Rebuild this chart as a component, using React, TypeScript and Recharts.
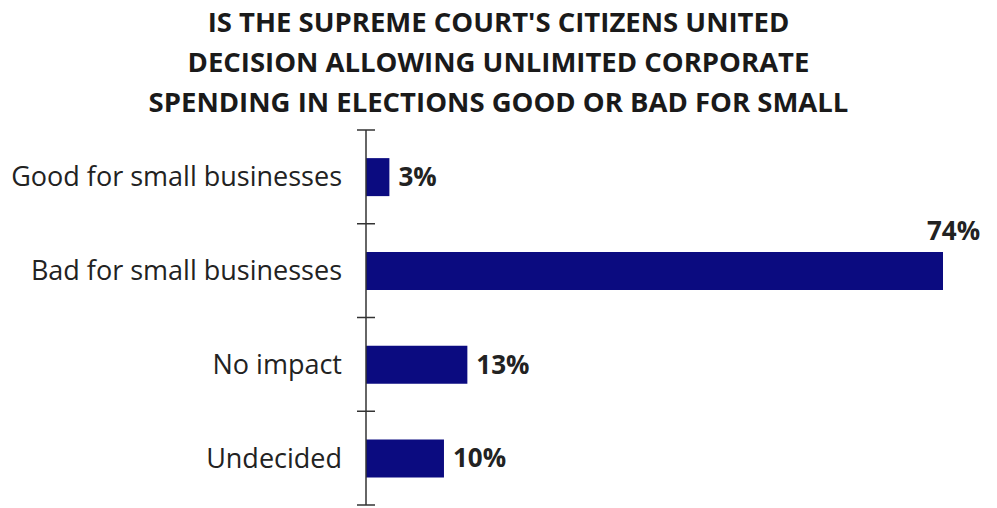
import React from 'react';
import { Bar, BarChart, LabelList, XAxis, YAxis } from 'recharts';

const titleLines = [
  "IS THE SUPREME COURT'S CITIZENS UNITED",
  'DECISION ALLOWING UNLIMITED CORPORATE',
  'SPENDING IN ELECTIONS GOOD OR BAD FOR SMALL',
];
const categories = [
  'Good for small businesses',
  'Bad for small businesses',
  'No impact',
  'Undecided',
];
const percents = [3, 74, 13, 10];

const chartData = categories.map((name, i) => ({ name, pct: percents[i] }));
const maxPct = Math.max(...percents);

const FONT = '"Open Sans", sans-serif';
const W = 997;
const H = 508;
const M = { top: 130, right: 54, bottom: 3, left: 0 };
const AXIS_W = 366;
const BAND = (H - M.top - M.bottom) / categories.length;

// category label plus the cross ticks at the band edges (Excel style)
const CategoryTick = (props: any) => {
  const { y, payload, index } = props;
  const ax = AXIS_W;
  const top = y - BAND / 2;
  const bottom = y + BAND / 2;
  return (
    <g>
      <line x1={ax - 9} x2={ax + 9} y1={top} y2={top} stroke="#333" strokeWidth={1.5} />
      {index === categories.length - 1 && (
        <line x1={ax - 9} x2={ax + 9} y1={bottom} y2={bottom} stroke="#333" strokeWidth={1.5} />
      )}
      <text x={ax - 24} y={y} dy="0.35em" textAnchor="end" fontSize={27} fill="#222" fontFamily={FONT}>
        {payload.value}
      </text>
    </g>
  );
};

const ValueLabel = (props: any) => {
  const { x, y, width, height, value } = props;
  const end = x + width;
  if (value === maxPct) {
    return (
      <text x={end - 16} y={y - 12} fontSize={26} fontWeight={700} fill="#222" fontFamily={FONT}>
        {value}%
      </text>
    );
  }
  return (
    <text
      x={end + 9}
      y={y + height / 2}
      dy="0.35em"
      fontSize={26}
      fontWeight={700}
      fill="#222"
      fontFamily={FONT}
    >
      {value}%
    </text>
  );
};

export default function App() {
  return (
    <div style={{ position: 'absolute', left: 0, top: 0, width: W, height: H, background: '#fff' }}>
      <div
        style={{
          position: 'absolute',
          left: 0,
          top: 2,
          width: W,
          textAlign: 'center',
          fontFamily: FONT,
          fontWeight: 700,
          fontSize: 27.5,
          lineHeight: '40px',
          color: '#1a1a1a',
        }}
      >
        {titleLines.map((l) => (
          <div key={l}>{l}</div>
        ))}
      </div>
      <BarChart
        width={W}
        height={H}
        data={chartData}
        layout="vertical"
        margin={M}
        barCategoryGap="30%"
      >
        <XAxis type="number" domain={[0, maxPct]} hide />
        <YAxis
          type="category"
          dataKey="name"
          width={AXIS_W}
          axisLine={{ stroke: '#333', strokeWidth: 1.5 }}
          tickLine={false}
          tick={<CategoryTick />}
        />
        <Bar dataKey="pct" fill="#0b0b80" isAnimationActive={false}>
          <LabelList dataKey="pct" content={<ValueLabel />} />
        </Bar>
      </BarChart>
    </div>
  );
}
